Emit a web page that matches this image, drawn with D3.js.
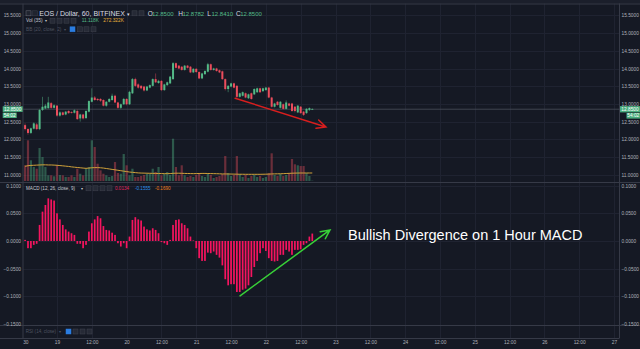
<!DOCTYPE html>
<html><head><meta charset="utf-8">
<script src="https://cdn.jsdelivr.net/npm/d3@7"></script>
<style>html,body{margin:0;padding:0;background:#161a25;overflow:hidden}svg{display:block}</style>
</head><body><svg id="c" width="640" height="349"></svg>
<script>
// ---------- DATA ----------
// hourly candles, first candle is 11 hours before "19" 00:00
const startHour = -11;
const open  = [12.40,12.29,12.18,12.30,12.42,12.29,12.83,12.87,12.88,13.02,
 12.89,12.95,12.67,12.76,12.70,12.80,12.77,12.75,12.80,12.59,
 12.70,12.60,12.78,13.06,13.18,13.14,13.14,13.11,12.95,13.06,
 13.11,13.23,13.04,12.89,12.99,13.14,12.99,13.30,13.70,13.55,
 13.51,13.49,13.38,13.46,13.51,13.70,13.59,13.65,13.39,13.53,
 13.58,13.70,14.15,14.08,14.05,13.96,14.08,14.05,13.89,13.99,
 13.90,13.72,13.84,13.91,14.12,13.96,14.00,13.95,13.92,13.70,
 13.42,13.49,13.58,13.51,13.20,13.23,13.30,13.16,13.30,13.27,
 13.33,13.44,13.36,13.39,13.46,13.18,12.92,13.06,12.89,12.99,
 12.86,13.01,13.01,12.92,12.76,12.92,12.78,12.74,12.83,12.85];
const close = [12.29,12.18,12.31,12.45,12.29,12.83,12.92,12.95,13.04,12.89,
 12.96,12.67,12.76,12.69,12.78,12.74,12.75,12.82,12.57,12.70,
 12.59,12.80,13.08,13.18,13.11,13.11,13.09,12.95,13.06,13.14,
 13.23,13.04,12.89,12.99,13.14,12.99,13.34,13.70,13.51,13.46,
 13.44,13.38,13.49,13.53,13.70,13.61,13.65,13.39,13.55,13.61,
 13.77,14.15,14.02,14.00,13.96,14.08,14.02,13.89,13.99,13.90,
 13.72,13.86,13.93,14.12,13.96,14.00,13.93,13.89,13.70,13.42,
 13.51,13.58,13.46,13.20,13.30,13.33,13.18,13.27,13.14,13.42,
 13.44,13.33,13.44,13.46,13.18,12.92,13.01,12.97,13.06,12.86,
 13.04,12.95,12.80,12.80,12.95,12.74,12.69,12.86,12.88,12.85];
const high  = [12.45,12.31,12.33,12.48,12.46,12.86,13.20,13.00,13.20,13.05,
 12.99,12.97,12.79,12.78,12.80,12.82,12.79,12.85,12.84,12.72,
 12.72,12.82,13.10,13.44,13.22,13.16,13.16,13.13,13.08,13.16,
 13.29,13.26,13.06,13.01,13.17,13.16,13.37,13.73,13.74,13.58,
 13.53,13.51,13.51,13.55,13.72,13.86,13.68,13.67,13.57,13.63,
 13.79,14.18,14.17,14.10,14.07,14.10,14.10,14.07,14.01,14.01,
 13.92,13.88,13.95,14.16,14.14,14.02,14.02,13.97,13.94,13.72,
 13.53,13.60,13.60,13.53,13.32,13.35,13.32,13.29,13.32,13.44,
 13.46,13.46,13.46,13.48,13.48,13.20,13.03,13.08,13.08,13.01,
 13.10,13.03,13.03,12.94,12.97,12.94,12.80,12.88,12.90,12.8782];
const low   = [12.25,12.13,12.15,12.28,12.26,12.26,12.80,12.85,12.86,12.86,
 12.87,12.64,12.64,12.67,12.68,12.72,12.73,12.73,12.55,12.50,
 12.56,12.57,12.76,13.04,13.09,13.08,13.06,12.93,12.92,13.04,
 13.09,13.02,12.86,12.85,12.97,12.96,12.97,13.28,13.48,13.43,
 13.41,13.35,13.36,13.44,13.49,13.59,13.57,13.36,13.37,13.51,
 13.56,13.68,14.00,13.98,13.94,13.94,14.00,13.87,13.87,13.88,
 13.70,13.70,13.82,13.89,13.94,13.94,13.91,13.87,13.68,13.38,
 13.33,13.47,13.44,13.17,13.18,13.21,13.16,13.14,13.12,13.25,
 13.31,13.31,13.34,13.37,13.16,12.90,12.90,12.95,12.87,12.84,
 12.84,12.93,12.78,12.76,12.74,12.72,12.66,12.72,12.80,12.841];
// volume in thousands
const volume = [534,1384,704,476,418,1122,816,476,194,194,
 160,534,204,194,136,136,194,136,418,248,
 194,418,476,1384,1156,588,364,248,194,136,
 170,646,272,248,918,534,194,418,136,136,
 170,204,248,248,418,306,476,194,248,306,
 204,1438,476,194,534,194,136,170,136,204,
 272,170,136,238,204,102,136,170,238,850,
 272,170,204,850,238,136,204,102,170,204,
 136,170,102,136,272,942,204,170,238,170,
 204,272,748,568,534,510,510,272,170,11.118];
const volMA = [500,520,530,535,540,545,550,550,545,545,
 540,535,525,515,505,495,480,470,460,450,
 440,430,440,450,455,455,450,440,425,410,
 395,380,365,350,335,320,305,295,285,275,
 270,268,265,262,260,258,255,252,250,250,
 252,262,265,265,262,258,255,252,250,252,
 255,258,258,255,252,250,248,245,240,240,
 238,236,234,232,230,230,228,228,228,228,
 228,228,230,232,234,240,242,244,246,250,
 255,260,265,268,270,272,272,272,272,272.322];
const macdHist = [0.002,-0.013,-0.013,-0.007,-0.005,0.029,0.053,0.065,0.077,0.075,
 0.073,0.050,0.039,0.029,0.021,0.017,0.014,0.011,-0.005,-0.005,
 -0.013,-0.007,0.017,0.032,0.039,0.045,0.041,0.027,0.020,0.019,
 0.015,0.011,-0.004,-0.010,-0.004,-0.013,0.008,0.038,0.043,0.039,
 0.037,0.026,0.021,0.019,0.023,0.020,0.014,-0.002,-0.004,-0.007,
 0.002,0.029,0.038,0.039,0.032,0.029,0.023,0.008,0.001,-0.013,
 -0.031,-0.036,-0.036,-0.021,-0.022,-0.019,-0.025,-0.030,-0.044,-0.069,
 -0.080,-0.078,-0.078,-0.092,-0.092,-0.088,-0.086,-0.080,-0.065,-0.047,
 -0.036,-0.022,-0.013,-0.018,-0.031,-0.036,-0.037,-0.036,-0.025,-0.025,
 -0.016,-0.019,-0.025,-0.016,-0.016,-0.015,-0.007,-0.004,0.008,0.0134];
const priceTicks = [15.5,15.0,14.5,14.0,13.5,13.0,12.5,12.0,11.5,11.0];
const macdTicks = [0.1,0.05,0,-0.05,-0.1,-0.15];
const timeTickHours = [-10.9,0,12,24,36,48,60,72,84,96,108,120,132,144,156,168,180,192];
const timeTickLabels = ["30","19","12:00","20","12:00","21","12:00","22","12:00","23","12:00","24","12:00","25","12:00","26","12:00","27"];
const lastPrice = 12.85;
const countdown = "54:02";
const redArrow = [[61.4,13.16],[92.7,12.35]];     // [hour, price]
const greenArrow = [[63.1,-0.099],[94.1,0.020]];  // [hour, macd]
const noteText = "Bullish Divergence on 1 Hour MACD";
const notePos = [100.3, 0.002];

// ---------- SETUP ----------
const svg = d3.select('#c');
const L = 23, R = 619.5, TOP = 3.5, SEP1 = 182, SEP2 = 325, BOT = 338;
const BG = '#151924', GRID = '#1f2331', SEPC = '#363a47';
const UP = '#53b987', DN = '#eb4d5c', UPW = '#3c7a60', DNW = '#8a3543';
const AX = '#aeb1ba';
const FONT = '"Liberation Sans", Arial, sans-serif';

const x = d3.scaleLinear().domain([0,192]).range([57,614]);
const yP = d3.scaleLinear().domain([11,15.5]).range([174.7,15.4]);
const yV = d3.scaleLinear().domain([0,1500]).range([181,136.9]);
const yM = d3.scaleLinear().domain([-0.15,0.1]).range([324.1,185.6]);
const hx = i => x(startHour + i);

svg.append('rect').attr('width',640).attr('height',349).attr('fill',BG);
svg.append('rect').attr('width',640).attr('height',TOP).attr('fill','#1b1f2b');

// grid
const g = svg.append('g');
g.selectAll('.hp').data(priceTicks).join('line')
  .attr('x1',L).attr('x2',R).attr('y1',d=>Math.round(yP(d))+0.5).attr('y2',d=>Math.round(yP(d))+0.5)
  .attr('stroke',GRID);
g.selectAll('.hm').data(macdTicks.filter(d=>d>-0.15)).join('line')
  .attr('x1',L).attr('x2',R).attr('y1',d=>Math.round(yM(d))+0.5).attr('y2',d=>Math.round(yM(d))+0.5)
  .attr('stroke',GRID);
g.selectAll('.vt').data(timeTickHours.slice(1)).join('line')
  .attr('x1',d=>Math.round(x(d))+0.5).attr('x2',d=>Math.round(x(d))+0.5)
  .attr('y1',TOP).attr('y2',BOT).attr('stroke',GRID);

// frame / separators
const frame = [[0,TOP,640,TOP],[0,SEP1,640,SEP1],[0,SEP2,640,SEP2],[0,BOT,R,BOT],[L,TOP,L,BOT],[R,TOP,R,BOT]];
svg.selectAll('.fr').data(frame).join('line')
  .attr('x1',d=>d[0]).attr('y1',d=>d[1]+ (d[1]===d[3]?0.5:0)).attr('x2',d=>d[2]).attr('y2',d=>d[3]+(d[1]===d[3]?0.5:0))
  .attr('stroke',SEPC);

// volume
const idx = d3.range(open.length);
svg.append('g').selectAll('rect').data(idx).join('rect')
  .attr('x',i=>hx(i)-1.1).attr('width',2.2)
  .attr('y',i=>yV(volume[i])).attr('height',i=>yV(0)-yV(volume[i]))
  .attr('fill',i=>close[i]>=open[i]?'rgba(83,185,135,0.4)':'rgba(235,77,92,0.4)');
svg.append('path').datum(idx)
  .attr('d',d3.line().x(i=>hx(i)).y(i=>yV(volMA[i])))
  .attr('fill','none').attr('stroke','#d1a23a').attr('stroke-width',1);

// price line
svg.append('line').attr('x1',L).attr('x2',R)
  .attr('y1',yP(lastPrice)).attr('y2',yP(lastPrice))
  .attr('stroke','#4a4f5c').attr('stroke-width',0.8);

// candles
const cg = svg.append('g');
cg.selectAll('line').data(idx).join('line')
  .attr('x1',i=>hx(i)).attr('x2',i=>hx(i))
  .attr('y1',i=>yP(high[i])).attr('y2',i=>yP(low[i]))
  .attr('stroke',i=>close[i]>=open[i]?UPW:DNW).attr('stroke-width',0.8);
cg.selectAll('rect').data(idx).join('rect')
  .attr('x',i=>hx(i)-1).attr('width',2)
  .attr('y',i=>yP(Math.max(open[i],close[i])))
  .attr('height',i=>Math.max(0.8, Math.abs(yP(open[i])-yP(close[i]))))
  .attr('fill',i=>close[i]>=open[i]?UP:DN);

// MACD histogram
svg.append('g').selectAll('rect').data(idx).join('rect')
  .attr('x',i=>hx(i)-0.85).attr('width',1.7)
  .attr('y',i=>yM(Math.max(0,macdHist[i])))
  .attr('height',i=>Math.abs(yM(macdHist[i])-yM(0)))
  .attr('fill','#f5145f');

// axes
function styleAxis(sel){
  sel.select('.domain').remove();
  sel.selectAll('text').attr('fill',AX).style('font-size','4.8px').style('font-family',FONT);
}
const f4 = d3.format('.4f');
svg.append('g').attr('transform',`translate(${L},0)`)
  .call(d3.axisLeft(yP).tickValues(priceTicks).tickFormat(f4).tickSize(0).tickPadding(2)).call(styleAxis);
svg.append('g').attr('transform',`translate(${R},0)`)
  .call(d3.axisRight(yP).tickValues(priceTicks).tickFormat(f4).tickSize(0).tickPadding(2)).call(styleAxis);
svg.append('g').attr('transform',`translate(${L},0)`)
  .call(d3.axisLeft(yM).tickValues(macdTicks).tickFormat(f4).tickSize(0).tickPadding(2)).call(styleAxis);
svg.append('g').attr('transform',`translate(${R},0)`)
  .call(d3.axisRight(yM).tickValues(macdTicks).tickFormat(f4).tickSize(0).tickPadding(2)).call(styleAxis);
svg.append('g').attr('transform',`translate(0,${BOT})`)
  .call(d3.axisBottom(x).tickValues(timeTickHours).tickFormat((d,i)=>timeTickLabels[i]).tickSize(0).tickPadding(3)).call(styleAxis);

// last price labels
function tag(x0,w,y0,h,txt){
  svg.append('rect').attr('x',x0).attr('y',y0).attr('width',w).attr('height',h).attr('fill','#4aad7e');
  svg.append('text').attr('x',x0+w/2).attr('y',y0+h/2).attr('text-anchor','middle')
    .attr('dominant-baseline','central').attr('fill','#ffffff').style('font-size','4.8px').style('font-family',FONT).text(txt);
}
const yl = yP(lastPrice);
tag(2.7,20,yl-2.9,5.6,f4(lastPrice));
tag(2.7,14,yl+3.4,5.4,countdown);
tag(620,20,yl-3.1,6.3,f4(lastPrice));
tag(626.5,13.5,yl+3.8,5.6,countdown);

// legends
function txt(x0,y0,s,size,fill){
  svg.append('text').attr('x',x0).attr('y',y0).attr('dominant-baseline','central')
    .attr('fill',fill).style('font-size',size+'px').style('font-family',FONT).text(s);
}
function box(x0,y0,fill,stroke){
  svg.append('rect').attr('x',x0).attr('y',y0-2.5).attr('width',5).attr('height',5)
    .attr('fill',fill||'#262a36').attr('stroke',stroke||'#40444f').attr('stroke-width',0.5);
}
// row 1
box(26,13.3,'#20242f','#6a6d78'); box(32.5,13.3,'#20242f','#3a3e4a');
txt(39.3,13.5,'EOS / Dollar, 60, BITFINEX',7,'#d6d9e0');
txt(126.5,13.5,'▾',5,'#d6d9e0');
box(132,13.3); box(139,13.3);
const ohlc = [['O',147.7,open[99]],['H',178.3,high[99]],['L',207.3,low[99]],['C',236,close[99]]];
ohlc.forEach(d=>{ txt(d[1],13.5,d[0],6.5,'#d6d9e0'); txt(d[1]+4.2,13.5,f4(d[2]),6,'#53b987'); });
// row 2
txt(26,20.8,'Vol (35)',4.8,'#c5c8d0'); txt(44.5,20.8,'▾',4,'#c5c8d0');
[50,57,64,71].forEach(b=>box(b,20.7));
txt(81.7,20.8,d3.format('.3f')(volume[99])+'K',4.8,'#53b987');
txt(103.3,20.8,d3.format('.3f')(volMA[99])+'K',4.8,'#e8b03a');
// row 3
txt(26,29.4,'BB (20, close, 2)',4.8,'#4f5360'); txt(64,29.4,'▾',4,'#4f5360');
box(70,29.3,'#2b7de0','#2b7de0'); [77.5,84,91].forEach(b=>box(b,29.3));
// MACD row
txt(26,188.4,'MACD (12, 26, close, 9)',4.6,'#c5c8d0'); txt(81,188.4,'▾',4,'#c5c8d0');
[86,93,100,107].forEach(b=>box(b,188.3));
txt(115,188.4,f4(macdHist[99]),4.6,'#e0245e');
txt(135,188.4,'-0.1555',4.6,'#2b8fe8');
txt(155,188.4,'-0.1690',4.6,'#f07f1a');
// RSI row
txt(25.7,331.6,'RSI (14, close)',4.6,'#4f5360'); txt(59,331.6,'▾',4,'#4f5360');
box(66,331.5,'#2b7de0','#2b7de0'); [73,80,87].forEach(b=>box(b,331.5));

// annotations
function arrow(p0,p1,color){
  const dx=p1[0]-p0[0], dy=p1[1]-p0[1], len=Math.hypot(dx,dy);
  const ux=-dx/len, uy=-dy/len, a=0.45, hl=10;
  const r=(t)=>[p1[0]+hl*(ux*Math.cos(t)-uy*Math.sin(t)), p1[1]+hl*(ux*Math.sin(t)+uy*Math.cos(t))];
  const h1=r(a), h2=r(-a);
  svg.append('path').attr('d',`M${p0[0]},${p0[1]}L${p1[0]},${p1[1]}M${h1[0]},${h1[1]}L${p1[0]},${p1[1]}L${h2[0]},${h2[1]}`)
    .attr('fill','none').attr('stroke',color).attr('stroke-width',1.5).attr('stroke-linecap','round');
}
arrow([x(redArrow[0][0]),yP(redArrow[0][1])],[x(redArrow[1][0]),yP(redArrow[1][1])],'#d81e1e');
arrow([x(greenArrow[0][0]),yM(greenArrow[0][1])],[x(greenArrow[1][0]),yM(greenArrow[1][1])],'#38d038');
svg.append('text').attr('x',x(notePos[0])).attr('y',yM(notePos[1])).attr('fill','#ffffff')
  .style('font-size','14.5px').style('font-family',FONT).text(noteText);
</script></body></html>
